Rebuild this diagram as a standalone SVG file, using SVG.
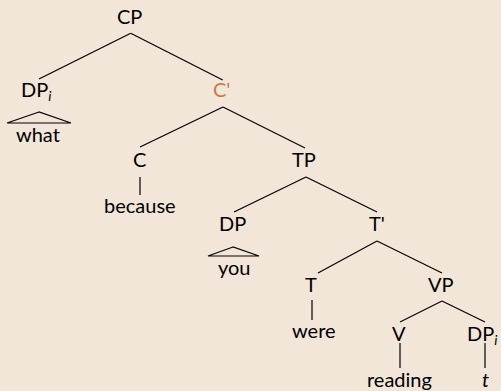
<svg xmlns="http://www.w3.org/2000/svg" width="501" height="391" viewBox="0 0 501 391">
<style>
text{font-family:Lato,"Open Sans","DejaVu Sans",sans-serif;font-size:20px;fill:#000}
.hl{fill:#C67D3C}
.sub{font-size:14px;font-style:italic}
.it{font-style:italic}
.e{stroke:#000;stroke-width:1.2;fill:none}
</style>
<rect width="501" height="391" fill="#F2E6D9"/>
<g id="connectors" class="e">
<line x1="130.7" y1="33.3" x2="39" y2="79"/>
<line x1="130.7" y1="33.3" x2="222.7" y2="80"/>
<polygon points="39,112 7,123 71,123"/>
<line x1="223" y1="107" x2="140" y2="147"/>
<line x1="223" y1="107" x2="305" y2="148"/>
<line x1="140" y1="177" x2="140" y2="195"/>
<line x1="306" y1="177" x2="234" y2="212"/>
<line x1="306" y1="177" x2="377" y2="212"/>
<polygon points="233,247 208,256 259,256"/>
<line x1="377" y1="241" x2="318" y2="273"/>
<line x1="377" y1="241" x2="442" y2="273"/>
<line x1="312" y1="300" x2="312" y2="320"/>
<line x1="442" y1="301" x2="400" y2="322"/>
<line x1="442" y1="301" x2="485" y2="322"/>
<line x1="400" y1="343" x2="400" y2="368"/>
<line x1="485" y1="343" x2="485" y2="368"/>
</g>
<g id="CP"><text x="117" y="24">CP</text></g>
<g id="DPi"><text x="21" y="97">DP<tspan class="sub" dy="4">i</tspan></text></g>
<g id="what"><text x="16" y="142">what</text></g>
<g id="Cbar"><text class="hl" x="213" y="97">C'</text></g>
<g id="C"><text x="133" y="167">C</text></g>
<g id="because"><text x="104" y="213">because</text></g>
<g id="TP"><text x="292" y="167">TP</text></g>
<g id="DP"><text x="219" y="231">DP</text></g>
<g id="you"><text x="218" y="275">you</text></g>
<g id="Tbar"><text x="369" y="231">T'</text></g>
<g id="T"><text x="305" y="292">T</text></g>
<g id="were"><text x="292" y="338">were</text></g>
<g id="VP"><text x="428" y="292">VP</text></g>
<g id="V"><text x="392" y="341">V</text></g>
<g id="DPi2"><text x="467" y="341">DP<tspan class="sub" dy="4">i</tspan></text></g>
<g id="reading"><text x="367" y="387">reading</text></g>
<g id="t"><text class="it" x="482" y="387">t</text></g>
</svg>
